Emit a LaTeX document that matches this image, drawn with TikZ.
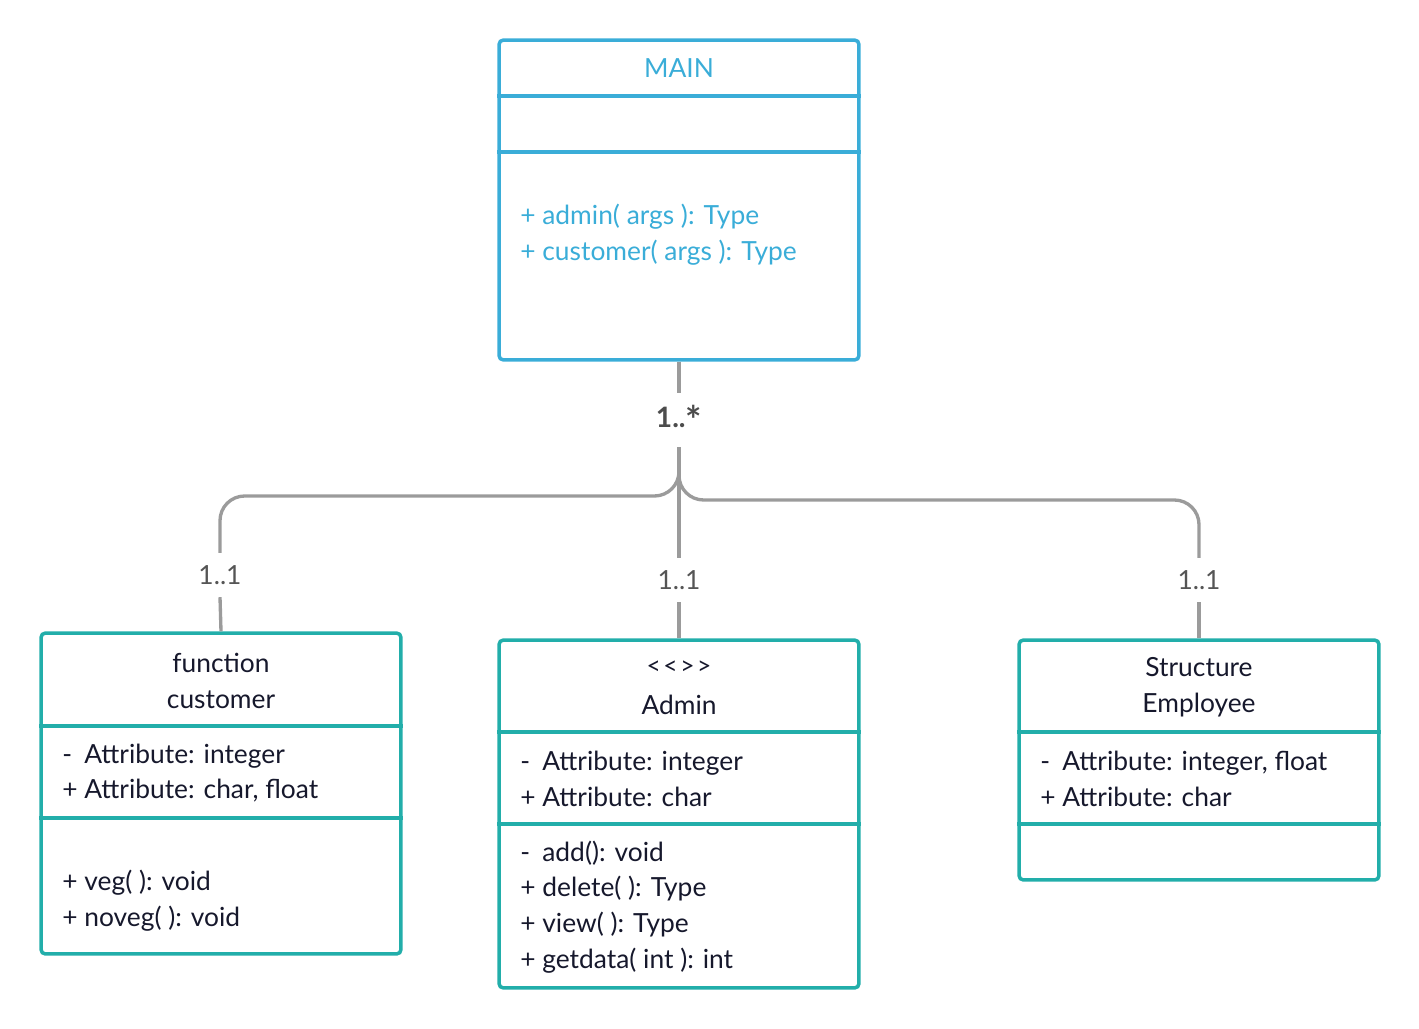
\documentclass[tikz,border=0pt]{standalone}
\usepackage{fontspec}
\setmainfont{Lato}
\usetikzlibrary{positioning}
\definecolor{mainblue}{RGB}{58,173,216}
\definecolor{boxteal}{RGB}{34,174,170}
\definecolor{inktext}{RGB}{22,24,44}
\definecolor{wiregray}{RGB}{155,155,155}
\definecolor{multgray}{RGB}{85,85,85}
\newcommand{\privmark}{\rlap{-}\phantom{+}} % Minus sign padded to the width of a plus
\tikzset{x=0.02cm, y=-0.02cm, % One unit is one pixel of the layout
every node/.style={ % Sets the font for all text
font=\fontsize{15}{20.4}\selectfont, text=inktext},
classbox/.style={ % Outline of each class
draw, line width=2pt, rounded corners=2.5pt, inner sep=0pt},
divider/.style={ % Line between two compartments
line width=2pt},
members/.style={ % Attribute and operation lists
anchor=west, align=left, inner sep=0pt},
wire/.style={ % Association lines
draw=wiregray, line width=1.9pt, rounded corners=14},
mult/.style={ % Multiplicity labels
text=multgray, inner sep=7pt},
multbold/.style={mult, font=\fontsize{16}{20.4}\selectfont\bfseries, text=black!70}}

\begin{document}
\begin{tikzpicture}
    \useasboundingbox (0,0) rectangle (1419,1028);

    % Classes
    \node[classbox, draw=mainblue, minimum width=7.2cm, minimum height=6.4cm] (main) at (679,200) {};
    \node[classbox, draw=boxteal, minimum width=7.2cm, minimum height=6.42cm] (fcust) at (221,793.5) {};
    \node[classbox, draw=boxteal, minimum width=7.2cm, minimum height=6.96cm] (admin) at (679,814) {};
    \node[classbox, draw=boxteal, minimum width=7.2cm, minimum height=4.8cm] (semp) at (1199,760) {};

    \draw[divider, mainblue] (main.west |- 0,96) -- (main.east |- 0,96);
    \draw[divider, mainblue] (main.west |- 0,152) -- (main.east |- 0,152);
    \draw[divider, boxteal] (fcust.west |- 0,726) -- (fcust.east |- 0,726);
    \draw[divider, boxteal] (fcust.west |- 0,818) -- (fcust.east |- 0,818);
    \draw[divider, boxteal] (admin.west |- 0,732) -- (admin.east |- 0,732);
    \draw[divider, boxteal] (admin.west |- 0,824) -- (admin.east |- 0,824);
    \draw[divider, boxteal] (semp.west |- 0,732) -- (semp.east |- 0,732);
    \draw[divider, boxteal] (semp.west |- 0,824) -- (semp.east |- 0,824);

    % Texts
    \node[text=mainblue] (maintitle) at (679,68) {MAIN};
    \node[members, text=mainblue] (mainops) at (520,235) {+ admin( args ): Type\\+ customer( args ): Type};

    \node[align=center] (fcusttitle) at (221,681) {function\\customer};
    \node[members] (fcustattr) at (62,773) {\privmark\ Attribute: integer\\+ Attribute: char, float};
    \node[members] (fcustops) at (62,901) {+ veg( ): void\\+ noveg( ): void};

    \node[font=\fontsize{14}{14}\selectfont] (adminstereo) at (679,668) {<\kern1.5pt<\kern1.5pt>\kern1.5pt>};
    \node (admintitle) at (679,705) {Admin};
    \node[members] (adminattr) at (520,779) {\privmark\ Attribute: integer\\+ Attribute: char};
    \node[members] (adminops) at (520,907) {\privmark\ add(): void\\+ delete( ): Type\\+ view( ): Type\\+ getdata( int ): int};

    \node[align=center] (semptitle) at (1199,687) {Structure\\Employee};
    \node[members] (sempattr) at (1040,779) {\privmark\ Attribute: integer, float\\+ Attribute: char};

    % Associations
    \node[multbold] (mstar) at (679,420) {1..\raisebox{-0.25em}{\fontsize{22}{22}\selectfont *}};
    \node[mult] (mleft) at (220,575) {1..1};
    \node[mult] (mmid) at (679,580) {1..1};
    \node[mult] (mright) at (1199,580) {1..1};

    \draw[wire] (main.south) -- (mstar.north);
    \draw[wire] (mstar.south) -- (mmid.north);
    \draw[wire] (mstar.south) |- (mleft.north |- 0,496) -- (mleft.north);
    \draw[wire] (mstar.south) |- (mright.north |- 0,500) -- (mright.north);
    \draw[wire] (mleft.south) -- (fcust.north);
    \draw[wire] (mmid.south) -- (admin.north);
    \draw[wire] (mright.south) -- (semp.north);

\end{tikzpicture}
\end{document}
